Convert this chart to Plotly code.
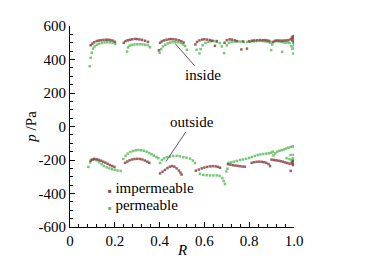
import plotly.graph_objects as go

# ---------------- data ----------------
inside_imp_R = [0.092,0.100,0.108,0.119,0.128,0.138,0.149,0.160,0.170,0.180,0.190,0.200,
                0.240,0.248,0.258,0.268,0.278,0.290,0.300,0.310,0.322,0.335,0.348,
                0.397,0.402,0.410,0.420,0.431,0.442,0.452,0.462,0.474,0.486,0.497,0.507,
                0.560,0.567,0.578,0.590,0.600,0.612,0.625,0.635,0.647,0.655,
                0.690,0.700,0.712,0.722,0.735,0.745,0.765,0.772,
                0.790,0.800,0.812,0.822,0.835,0.848,0.860,0.870,0.880,0.890,
                0.905,0.915,0.925,0.935,0.945,0.955,0.965,0.975,0.985,0.990,0.995,1.000,0.998,0.993,1.000]
inside_imp_p = [485,495,503,510,513,515,517,518,518,516,513,506,
                500,510,515,518,521,523,522,520,517,512,505,
                455,500,508,514,518,521,522,521,519,515,509,502,
                490,505,514,519,521,519,516,512,482,510,
                500,515,520,519,515,510,460,508,
                465,508,512,514,515,516,515,516,514,511,
                505,512,514,513,512,513,514,516,520,530,537,540,525,515,505]

inside_perm_R = [0.088,0.092,0.097,0.103,0.110,0.120,0.130,0.142,0.154,0.166,0.178,0.190,0.202,
                 0.255,0.259,0.266,0.276,0.288,0.300,0.312,0.324,0.336,0.348,0.357,
                 0.400,0.407,0.415,0.425,0.436,0.447,0.458,0.470,0.482,0.494,0.505,0.514,0.522,
                 0.565,0.578,0.583,0.592,0.605,0.618,0.630,0.642,0.655,0.668,0.678,0.688,
                 0.700,0.710,0.722,0.735,0.748,0.760,0.775,0.790,0.805,
                 0.820,0.832,0.845,0.858,0.870,0.882,0.893,0.898,0.903,
                 0.912,0.922,0.932,0.942,0.947,0.952,0.962,0.972,0.980,0.988,0.993,0.997,1.000,1.000,0.998,0.995]
inside_perm_p = [360,410,440,465,478,488,494,499,502,503,502,499,493,
                 448,472,482,487,490,491,491,490,488,484,473,
                 440,462,478,488,496,501,504,505,503,498,490,480,458,
                 458,436,462,485,500,506,509,510,506,498,478,438,
                 485,500,505,507,508,507,505,505,506,
                 508,510,511,511,508,505,500,456,490,
                 505,510,508,505,446,503,500,502,498,480,465,436,488,470,500,510]

outside_imp_R = [0.092,0.100,0.108,0.118,0.128,0.138,0.148,0.158,0.168,0.178,0.188,0.198,
                 0.246,0.256,0.266,0.277,0.288,0.300,0.312,0.323,0.334,0.345,0.354,
                 0.402,0.413,0.424,0.435,0.446,0.456,0.466,0.476,0.486,0.493,0.498,
                 0.562,0.575,0.588,0.600,0.612,0.625,0.637,0.650,0.660,0.670,
                 0.705,0.716,0.727,0.738,0.748,0.759,0.770,0.780,
                 0.811,0.822,0.833,0.845,0.856,0.866,0.876,0.886,0.893,
                 0.900,0.910,0.920,0.930,0.940,0.950,0.960,0.970,0.980,0.985,0.990,0.995,1.000,1.000,0.997,0.993]
outside_imp_p = [-204,-198,-194,-195,-199,-204,-210,-216,-223,-230,-236,-241,
                 -217,-209,-202,-197,-194,-193,-194,-197,-203,-210,-217,
                 -280,-270,-259,-248,-240,-236,-240,-250,-263,-275,-287,
                 -264,-257,-250,-245,-241,-238,-237,-238,-241,-246,
                 -225,-228,-231,-233,-235,-237,-239,-240,
                 -217,-213,-211,-210,-211,-213,-217,-224,-236,
                 -198,-200,-202,-204,-207,-210,-214,-218,-222,-265,-215,-208,-205,-222,-230,-225]

outside_perm_R = [0.082,0.090,0.097,0.107,0.119,0.130,0.141,0.152,0.164,0.176,0.188,0.200,0.212,0.226,
                  0.238,0.248,0.258,0.270,0.282,0.294,0.306,0.318,0.330,0.342,0.354,0.364,0.374,0.386,0.394,
                  0.402,0.410,0.420,0.432,0.446,0.460,0.476,0.490,0.506,0.520,0.536,0.548,0.558,
                  0.580,0.595,0.610,0.625,0.640,0.655,0.668,0.680,0.686,0.692,0.698,0.703,
                  0.708,0.720,0.732,0.745,0.759,0.772,0.786,0.800,0.812,0.825,
                  0.838,0.850,0.863,0.876,0.888,0.898,0.905,
                  0.908,0.916,0.925,0.935,0.945,0.955,0.965,0.975,0.985,0.993,1.000,
                  0.967,0.980,0.990,0.995,1.000,0.998,0.985]
outside_perm_p = [-241,-215,-198,-194,-202,-213,-225,-236,-244,-250,-255,-259,-263,-265,
                  -194,-175,-162,-152,-146,-142,-140,-142,-145,-150,-158,-166,-174,-182,-189,
                  -218,-200,-190,-183,-179,-176,-175,-178,-183,-186,-192,-203,-218,
                  -283,-289,-291,-292,-292,-292,-295,-308,-325,-343,-268,-252,
                  -217,-214,-210,-206,-200,-197,-193,-188,-182,-176,
                  -170,-167,-164,-162,-160,-156,-150,
                  -172,-160,-150,-145,-141,-137,-132,-127,-122,-120,-118,
                  -189,-195,-200,-190,-205,-170,-170]

x_tickvals = [0, 0.2, 0.4, 0.6, 0.8, 1.0]
x_ticktext = ["0", "0.2", "0.4", "0.6", "0.8", "1.0"]
y_tickvals = [600, 400, 200, 0, -200, -400, -600]
y_ticktext = ["600", "400", "200", "0", "-200", "-400", "-600"]

BROWN = "#8a4545"
GREEN = "#5cbf5c"
FONT = "Liberation Serif"

fig = go.Figure()
mk_b = dict(symbol="square", size=2.5, color=BROWN, opacity=0.85, line=dict(width=0))
mk_g = dict(symbol="square", size=2.5, color=GREEN, opacity=0.85, line=dict(width=0))
fig.add_trace(go.Scatter(x=inside_perm_R, y=inside_perm_p, mode="markers", marker=mk_g, name="permeable", showlegend=False))
fig.add_trace(go.Scatter(x=outside_perm_R, y=outside_perm_p, mode="markers", marker=mk_g, name="permeable", showlegend=False))
fig.add_trace(go.Scatter(x=inside_imp_R, y=inside_imp_p, mode="markers", marker=mk_b, name="impermeable", showlegend=False))
fig.add_trace(go.Scatter(x=outside_imp_R, y=outside_imp_p, mode="markers", marker=mk_b, name="impermeable", showlegend=False))

axis_common = dict(showline=True, linecolor="black", linewidth=1, mirror=False,
                   showgrid=False, zeroline=False, ticks="inside", ticklen=5,
                   tickcolor="black", tickwidth=1,
                   tickfont=dict(family=FONT, size=15, color="black"))
fig.update_xaxes(range=[0, 1], tickvals=x_tickvals, ticktext=x_ticktext,
                 minor=dict(dtick=0.04, ticklen=3, ticks="inside", tickcolor="black"),
                 **axis_common)
fig.update_yaxes(range=[-600, 600], tickvals=y_tickvals, ticktext=y_ticktext,
                 minor=dict(dtick=50, ticklen=3, ticks="inside", tickcolor="black"),
                 **axis_common)

ann_font = dict(family=FONT, size=15, color="black")
anns = [
    dict(text="<i>R</i>", x=0.5, y=-0.112, xref="paper", yref="paper", showarrow=False,
         font=ann_font, xanchor="center", yanchor="middle"),
    dict(text="<i>p</i> /Pa", x=-0.178, y=0.5, xref="paper", yref="paper", showarrow=False,
         font=ann_font, textangle=-90, xanchor="center", yanchor="middle"),
    dict(text="inside", x=0.469, y=496, xref="x", yref="y", showarrow=True, arrowhead=0,
         arrowwidth=0.8, arrowcolor="#333", ax=28, ay=32, font=ann_font),
    dict(text="outside", x=0.429, y=-208, xref="x", yref="y", showarrow=True, arrowhead=0,
         arrowwidth=0.8, arrowcolor="#333", ax=26, ay=-39, font=ann_font),
    dict(text="<span style='color:%s;font-size:6px'>■</span> impermeable" % BROWN,
         x=0.16, y=0.195, xref="paper", yref="paper", showarrow=False, font=ann_font,
         xanchor="left", yanchor="middle"),
    dict(text="<span style='color:%s;font-size:6px'>■</span> permeable" % GREEN,
         x=0.16, y=0.11, xref="paper", yref="paper", showarrow=False, font=ann_font,
         xanchor="left", yanchor="middle"),
]
fig.update_layout(width=366, height=267, margin=dict(l=62, r=80, t=10, b=48),
                  paper_bgcolor="white", plot_bgcolor="white", annotations=anns,
                  font=dict(family=FONT, size=15, color="black"))

fig.write_html("out.html")
